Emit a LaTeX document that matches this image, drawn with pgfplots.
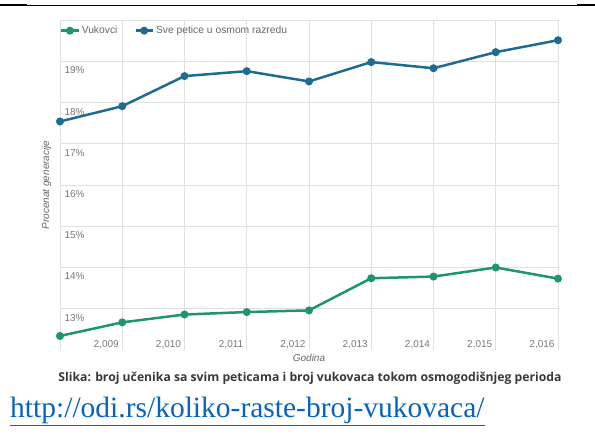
\documentclass[border=0pt]{standalone}
\usepackage{fontspec}
\setmainfont{Liberation Sans}
\newfontfamily\seriffont{Liberation Serif}
\newfontfamily\capfont{Open Sans}
\usepackage{pgfplots}
\pgfplotsset{compat=1.18}
\definecolor{ggreen}{RGB}{30,150,104}
\definecolor{gblue}{RGB}{30,108,146}
\definecolor{linkblue}{RGB}{5,99,193}
\definecolor{tickgray}{RGB}{120,120,120}
\begin{document}
\begin{tikzpicture}[x=1pt,y=1pt]
\path[use as bounding box] (0,0) rectangle (595,443);
\draw[line width=0.9pt] (0,438) -- (595,438);
\draw[line width=2.2pt] (0,438) -- (27,438);
\draw[line width=2.2pt] (577,438) -- (595,438);
\begin{axis}[
  at={(60pt,93pt)}, anchor=south west,
  scale only axis, width=498pt, height=330pt,
  xmin=2008, xmax=2016, ymin=12, ymax=20,
  xtick={2008,2009,2010,2011,2012,2013,2014,2015,2016},
  xticklabels={{},{2,009},{2,010},{2,011},{2,012},{2,013},{2,014},{2,015},{2,016}},
  ytick={13,14,15,16,17,18,19,20},
  yticklabels={13\%,14\%,15\%,16\%,17\%,18\%,19\%,{}},
  grid=major, major grid style={draw=black!12, line width=0.8pt},
  axis line style={draw=none}, tick style={draw=none},
  ticklabel style={font=\fontsize{10}{12}\selectfont, text=tickgray},
  xticklabel style={anchor=south east, yshift=-2pt},
  yticklabel style={anchor=north west, xshift=1pt, yshift=-2pt},
  xlabel={Godina},
  xlabel style={at={(axis description cs:0.5,0)}, anchor=center, yshift=-8pt, font=\itshape\fontsize{10}{12}\selectfont, text=black!60},
  ylabel={Procenat generacije},
  ylabel style={at={(axis description cs:-0.027,0.5)}, anchor=center, font=\itshape\fontsize{10}{12}\selectfont, text=black!60},
  legend style={at={(0,1)}, anchor=north west, yshift=-2pt, draw=none, fill=none, inner xsep=0pt,
    legend columns=2, font=\fontsize{10.3}{12}\selectfont, text=black!60,
    /tikz/every even column/.append style={column sep=15pt}},
  legend cell align=left,
  clip=false,
]
\addplot[color=ggreen, line width=2.5pt, mark=*, mark size=2.7pt] coordinates {
(2008,12.34) (2009,12.67) (2010,12.86) (2011,12.92) (2012,12.96)
(2013,13.74) (2014,13.78) (2015,14.00) (2016,13.73)};
\addlegendentry{Vukovci}
\addplot[color=gblue, line width=2.5pt, mark=*, mark size=2.7pt] coordinates {
(2008,17.54) (2009,17.91) (2010,18.64) (2011,18.76) (2012,18.51)
(2013,18.98) (2014,18.83) (2015,19.22) (2016,19.51)};
\addlegendentry{Sve petice u osmom razredu}
\end{axis}
\node[font=\capfont\bfseries\fontsize{12.2}{14}\selectfont, text=black!78] at (310,65) {Slika: broj učenika sa svim peticama i broj vukovaca tokom osmogodišnjeg perioda};
\node[anchor=base west, inner sep=0pt, font=\seriffont\fontsize{29.5}{34}\selectfont, text=linkblue] at (10,25) {\underline{http://odi.rs/koliko-raste-broj-vukovaca/}};
\end{tikzpicture}
\end{document}
